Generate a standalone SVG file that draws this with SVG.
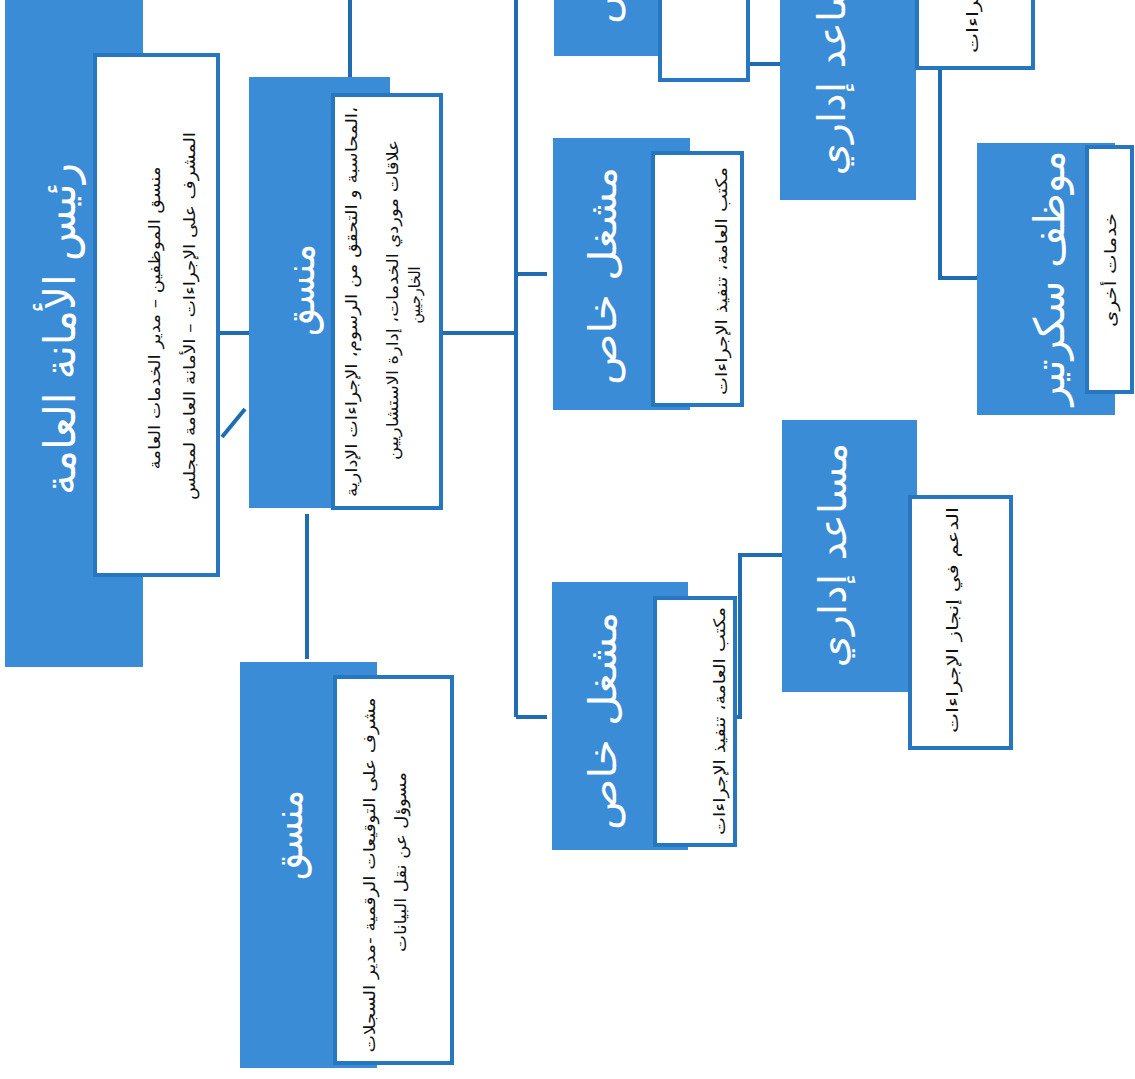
<svg xmlns="http://www.w3.org/2000/svg" width="1135" height="1079" viewBox="0 0 1135 1079">
<style>
.hdr{fill:#3a8cd6}
.box{fill:#fff;stroke:#2676c0;stroke-width:4}
.ttl{font-family:"DejaVu Sans",sans-serif;fill:#fff;font-size:38px;text-anchor:middle}
.dsc{font-family:"DejaVu Sans",sans-serif;fill:#111;font-size:16px;text-anchor:middle}
.con{stroke:#1f6db0;stroke-width:4;fill:none}
</style>
<rect width="1135" height="1079" fill="#fff"/>
<g id="connectors" class="con">
<path d="M220 333H250"/>
<path d="M222 437L245 409"/>
<path d="M350 0V77"/>
<path d="M307 514V659"/>
<path d="M441 333H516"/>
<path d="M516 0V717"/>
<path d="M516 274H547"/>
<path d="M516 717H547"/>
<path d="M748 64H780"/>
<path d="M940 68V278H977"/>
<path d="M735 717H740V555H782"/>
</g>
<g id="n1">
<rect class="hdr" x="5" y="0" width="138" height="667"/>
<rect class="box" x="95" y="55" width="123" height="520"/>
<text class="ttl" style="font-size:44px" transform="translate(75,329) rotate(-90)" textLength="332" lengthAdjust="spacingAndGlyphs">رئيس الأمانة العامة</text>
<text class="dsc" transform="translate(160,318) rotate(-90)" textLength="303" lengthAdjust="spacingAndGlyphs">منسق الموظفين – مدير الخدمات العامة</text>
<text class="dsc" transform="translate(195,316) rotate(-90)" textLength="368" lengthAdjust="spacingAndGlyphs">المشرف على الإجراءات – الأمانة العامة لمجلس</text>
</g>
<g id="n2">
<rect class="hdr" x="249" y="77" width="141" height="431"/>
<rect class="box" x="333" y="95" width="108" height="413"/>
<text class="ttl" style="font-size:40px" transform="translate(314,290) rotate(-90)" textLength="92" lengthAdjust="spacingAndGlyphs">منسق</text>
<text class="dsc" transform="translate(357,302) rotate(-90)" textLength="390" lengthAdjust="spacingAndGlyphs">المحاسبة و التحقق من الرسوم، الإجراءات الإدارية،</text>
<text class="dsc" transform="translate(398,300) rotate(-90)" textLength="320" lengthAdjust="spacingAndGlyphs">علاقات موردي الخدمات، إدارة الاستشاريين</text>
<text class="dsc" transform="translate(420,295) rotate(-90)" textLength="57" lengthAdjust="spacingAndGlyphs">الخارجيين</text>
</g>
<g id="n3">
<rect class="hdr" x="240" y="662" width="137" height="406"/>
<rect class="box" x="335" y="677" width="117" height="386"/>
<text class="ttl" style="font-size:40px" transform="translate(302,835) rotate(-90)" textLength="90" lengthAdjust="spacingAndGlyphs">منسق</text>
<text class="dsc" transform="translate(375,875) rotate(-90)" textLength="355" lengthAdjust="spacingAndGlyphs">مشرف على التوقيعات الرقمية -مدير السجلات</text>
<text class="dsc" transform="translate(406,862) rotate(-90)" textLength="180" lengthAdjust="spacingAndGlyphs">مسوؤل عن نقل البيانات</text>
</g>
<g id="n4">
<rect class="hdr" x="554" y="-10" width="136" height="66"/>
<rect class="box" x="660" y="-10" width="88" height="90"/>
<text class="ttl" transform="translate(616,-85) rotate(-90)" textLength="218" lengthAdjust="spacingAndGlyphs">مشغل خاص</text>
</g>
<g id="n5">
<rect class="hdr" x="553" y="138" width="137" height="272"/>
<rect class="box" x="653" y="153" width="89" height="252"/>
<text class="ttl" transform="translate(616,276) rotate(-90)" textLength="218" lengthAdjust="spacingAndGlyphs">مشغل خاص</text>
<text class="dsc" transform="translate(727,281) rotate(-90)" textLength="228" lengthAdjust="spacingAndGlyphs">مكتب العامة، تنفيذ الإجراءات</text>
</g>
<g id="n6">
<rect class="hdr" x="552" y="582" width="136" height="268"/>
<rect class="box" x="655" y="598" width="80" height="247"/>
<text class="ttl" transform="translate(616,721) rotate(-90)" textLength="218" lengthAdjust="spacingAndGlyphs">مشغل خاص</text>
<text class="dsc" transform="translate(725,721) rotate(-90)" textLength="228" lengthAdjust="spacingAndGlyphs">مكتب العامة، تنفيذ الإجراءات</text>
</g>
<g id="n7">
<rect class="hdr" x="780" y="-10" width="136" height="210"/>
<rect class="box" x="917" y="-10" width="116" height="78"/>
<text class="ttl" transform="translate(845,63) rotate(-90)" textLength="225" lengthAdjust="spacingAndGlyphs">مساعد إداري</text>
<text class="dsc" transform="translate(978,-60) rotate(-90)" textLength="226" lengthAdjust="spacingAndGlyphs">الدعم في إنجاز الإجراءات</text>
</g>
<g id="n8">
<rect class="hdr" x="782" y="420" width="135" height="272"/>
<rect class="box" x="910" y="497" width="101" height="251"/>
<text class="ttl" transform="translate(846,555) rotate(-90)" textLength="225" lengthAdjust="spacingAndGlyphs">مساعد إداري</text>
<text class="dsc" transform="translate(958,620) rotate(-90)" textLength="226" lengthAdjust="spacingAndGlyphs">الدعم في إنجاز الإجراءات</text>
</g>
<g id="n9">
<rect class="hdr" x="977" y="143" width="138" height="272"/>
<rect class="box" x="1087" y="147" width="45" height="245"/>
<text class="ttl" style="font-size:42px" transform="translate(1064,278) rotate(-90)" textLength="255" lengthAdjust="spacingAndGlyphs">موظف سكرتير</text>
<text class="dsc" transform="translate(1116,270) rotate(-90)" textLength="114" lengthAdjust="spacingAndGlyphs">خدمات أخرى</text>
</g>
</svg>
